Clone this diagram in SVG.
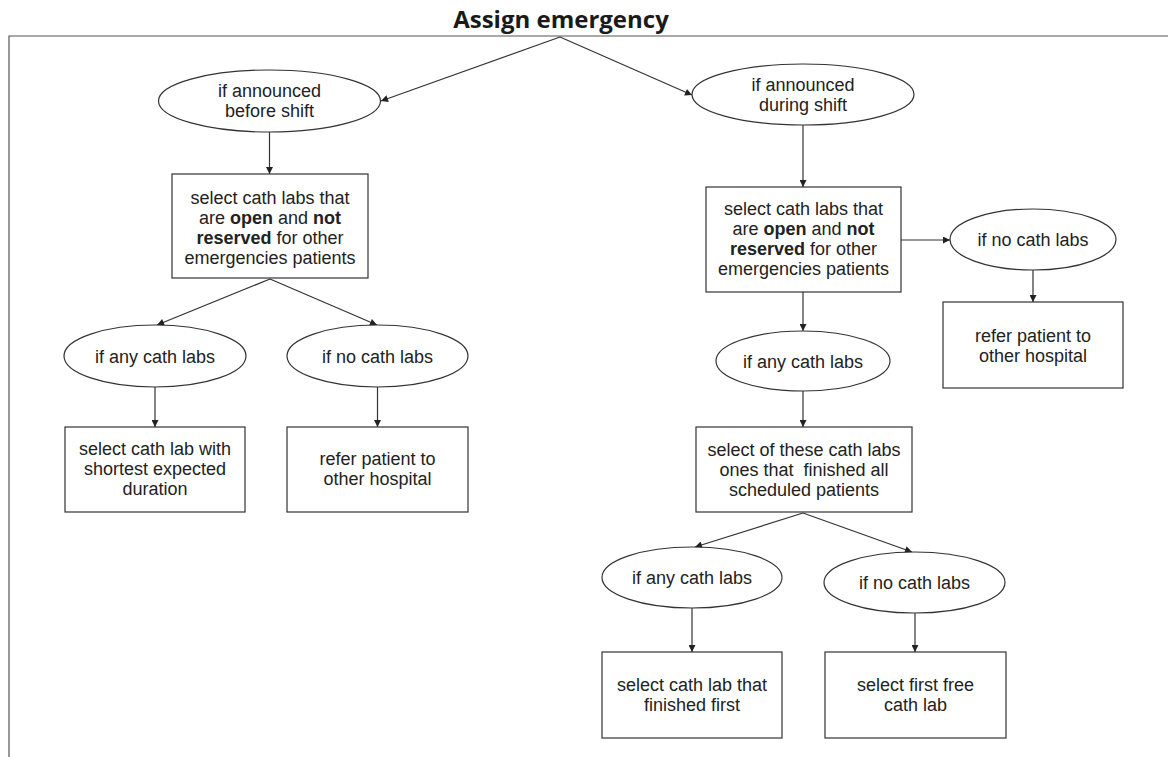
<svg xmlns="http://www.w3.org/2000/svg" width="1168" height="757" viewBox="0 0 1168 757">
<style>
.t{font-family:"Liberation Sans",Arial,sans-serif;font-size:18px;fill:#222;text-anchor:middle}
.b{font-weight:bold}
.title{font-family:"Open Sans","Liberation Sans",sans-serif;font-size:24px;font-weight:bold;fill:#1a1a1a;text-anchor:middle}
.n{fill:#fff;stroke:#333;stroke-width:1.2}
.c{stroke:#333;stroke-width:1.2;fill:none;marker-end:url(#ah)}
.frame{stroke:#555;stroke-width:1.2;fill:none}
</style>
<defs>
<marker id="ah" viewBox="0 0 10 10" refX="10" refY="5" markerWidth="9" markerHeight="7" markerUnits="userSpaceOnUse" orient="auto">
<path d="M0,0 L10,5 L0,10 z" fill="#222"/>
</marker>
</defs>
<rect width="1168" height="757" fill="#fff"/>
<text class="title" x="561" y="28">Assign emergency</text>
<path class="frame" d="M1168,36 H9 V757"/>
<g id="connectors">
<line class="c" x1="560" y1="37" x2="381" y2="101"/>
<line class="c" x1="560" y1="37" x2="692" y2="95"/>
<line class="c" x1="269.5" y1="132" x2="269.5" y2="174"/>
<line class="c" x1="270" y1="279" x2="157" y2="325"/>
<line class="c" x1="270" y1="279" x2="377" y2="325"/>
<line class="c" x1="155" y1="387" x2="155" y2="427"/>
<line class="c" x1="377.5" y1="387" x2="377.5" y2="427"/>
<line class="c" x1="803" y1="125" x2="803" y2="187"/>
<line class="c" x1="901" y1="240" x2="950" y2="240"/>
<line class="c" x1="1033" y1="270" x2="1033" y2="302"/>
<line class="c" x1="803" y1="292" x2="803" y2="331"/>
<line class="c" x1="803" y1="391" x2="803" y2="427"/>
<line class="c" x1="803" y1="513" x2="695" y2="547"/>
<line class="c" x1="803" y1="513" x2="912" y2="552"/>
<line class="c" x1="692" y1="608" x2="692" y2="652"/>
<line class="c" x1="915" y1="613" x2="915" y2="652"/>
</g>
<g id="before">
<ellipse class="n" cx="269.5" cy="101" rx="111" ry="31"/>
<text class="t" x="269.5" y="97">if announced</text>
<text class="t" x="269.5" y="117">before shift</text>
</g>
<g id="during">
<ellipse class="n" cx="803" cy="94.5" rx="111" ry="30.5"/>
<text class="t" x="803" y="90.5">if announced</text>
<text class="t" x="803" y="110.5">during shift</text>
</g>
<g id="selectL">
<rect class="n" x="172" y="174" width="196" height="104"/>
<text class="t" x="270" y="203.5">select cath labs that</text>
<text class="t" x="270" y="223.5">are <tspan class="b">open</tspan> and <tspan class="b">not</tspan></text>
<text class="t" x="270" y="243.5"><tspan class="b">reserved</tspan> for other</text>
<text class="t" x="270" y="263.5">emergencies patients</text>
</g>
<g id="anyL">
<ellipse class="n" cx="155" cy="356" rx="91" ry="31"/>
<text class="t" x="155" y="362.5">if any cath labs</text>
</g>
<g id="noL">
<ellipse class="n" cx="377.5" cy="356" rx="90.5" ry="31"/>
<text class="t" x="377.5" y="362.5">if no cath labs</text>
</g>
<g id="shortest">
<rect class="n" x="65" y="427" width="180" height="85"/>
<text class="t" x="155" y="454.5">select cath lab with</text>
<text class="t" x="155" y="474.5">shortest expected</text>
<text class="t" x="155" y="494.5">duration</text>
</g>
<g id="referL">
<rect class="n" x="287" y="427" width="181" height="85"/>
<text class="t" x="377.5" y="464.5">refer patient to</text>
<text class="t" x="377.5" y="484.5">other hospital</text>
</g>
<g id="selectR">
<rect class="n" x="706" y="187" width="195" height="105"/>
<text class="t" x="803.5" y="214.5">select cath labs that</text>
<text class="t" x="803.5" y="234.5">are <tspan class="b">open</tspan> and <tspan class="b">not</tspan></text>
<text class="t" x="803.5" y="254.5"><tspan class="b">reserved</tspan> for other</text>
<text class="t" x="803.5" y="274.5">emergencies patients</text>
</g>
<g id="noR">
<ellipse class="n" cx="1033" cy="239.5" rx="83" ry="30.5"/>
<text class="t" x="1033" y="246">if no cath labs</text>
</g>
<g id="referR">
<rect class="n" x="943" y="302" width="180" height="86"/>
<text class="t" x="1033" y="341.5">refer patient to</text>
<text class="t" x="1033" y="361.5">other hospital</text>
</g>
<g id="anyR">
<ellipse class="n" cx="803" cy="361" rx="87" ry="30"/>
<text class="t" x="803" y="367.5">if any cath labs</text>
</g>
<g id="finished">
<rect class="n" x="696" y="427" width="216" height="85"/>
<text class="t" x="804" y="455.5">select of these cath labs</text>
<text class="t" x="804" y="475.5">ones that &#160;finished all</text>
<text class="t" x="804" y="495.5">scheduled patients</text>
</g>
<g id="anyR2">
<ellipse class="n" cx="692" cy="577.5" rx="90" ry="30.5"/>
<text class="t" x="692" y="583.5">if any cath labs</text>
</g>
<g id="noR2">
<ellipse class="n" cx="914.5" cy="582.5" rx="90.5" ry="30.5"/>
<text class="t" x="914.5" y="588.5">if no cath labs</text>
</g>
<g id="finishedFirst">
<rect class="n" x="602" y="652" width="180" height="86"/>
<text class="t" x="692" y="690.5">select cath lab that</text>
<text class="t" x="692" y="710.5">finished first</text>
</g>
<g id="firstFree">
<rect class="n" x="825" y="652" width="181" height="86"/>
<text class="t" x="915.5" y="690.5">select first free</text>
<text class="t" x="915.5" y="710.5">cath lab</text>
</g>
</svg>
